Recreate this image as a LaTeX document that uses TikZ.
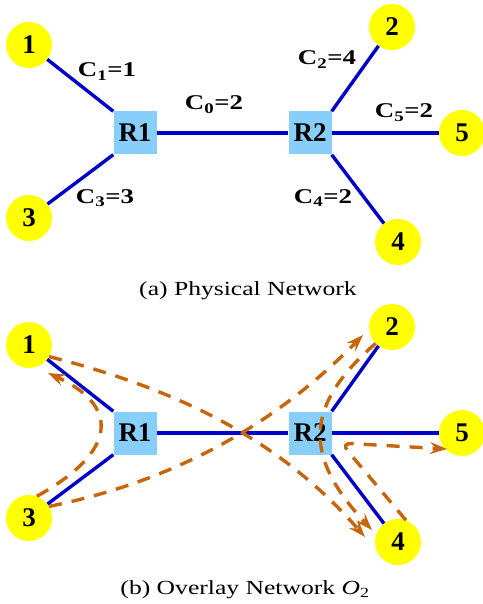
\documentclass[tikz,border=0pt]{standalone}
\usepackage{fontspec}
\setmainfont{Liberation Serif}
\newfontfamily\widefont{Liberation Serif}[FakeStretch=1.28]
\usepackage{tikz}
\usetikzlibrary{arrows.meta}
\definecolor{hostyellow}{RGB}{255,255,0}
\definecolor{rtrblue}{RGB}{135,206,250}
\definecolor{linkblue}{RGB}{0,0,205}
\definecolor{ovlorange}{RGB}{200,100,10}
\tikzset{
  host/.style={circle,fill=hostyellow,minimum size=46pt,inner sep=0pt,font=\bfseries\fontsize{27}{27}\selectfont},
  rtr/.style ={rectangle,fill=rtrblue,minimum size=43pt,inner sep=0pt,font=\bfseries\fontsize{27}{27}\selectfont},
  link/.style={draw=linkblue,line width=3.4pt},
  ovl/.style ={draw=ovlorange,line width=3.4pt,dash pattern=on 13pt off 10pt,-{Stealth[length=17pt,width=12pt,inset=6pt]}},
  lbl/.style ={anchor=base,inner sep=0pt,font=\widefont\bfseries\fontsize{21}{21}\selectfont},
  capt/.style={anchor=base,inner sep=0pt,font=\widefont\fontsize{20}{20}\selectfont},
}
\begin{document}
\begin{tikzpicture}[x=1pt,y=-1pt]
\useasboundingbox (0,0) rectangle (482,604);
% (a) physical network
\node[host] (h1) at (29,45) {1};
\node[host] (h2) at (392,27) {2};
\node[host] (h3) at (29,218) {3};
\node[host] (h4) at (398,242) {4};
\node[host] (h5) at (462,133) {5};
\node[rtr] (r1) at (135,133) {R1};
\node[rtr] (r2) at (310,133) {R2};
\draw[link] (h1) -- (r1.north west);
\draw[link] (h3) -- (r1.south west);
\draw[link] (r1) -- (r2);
\draw[link] (r2.north east) -- (h2);
\draw[link] (r2) -- (h5);
\draw[link] (r2.south east) -- (h4);
\node[lbl] (c1) at (107,77) {C\textsubscript{1}=1};
\node[lbl] (c0) at (214,110) {C\textsubscript{0}=2};
\node[lbl] (c2) at (327,65) {C\textsubscript{2}=4};
\node[lbl] (c5) at (404,118) {C\textsubscript{5}=2};
\node[lbl] (c4) at (323,203) {C\textsubscript{4}=2};
\node[lbl] (c3) at (105,203) {C\textsubscript{3}=3};
\node[capt] (capa) at (248,295) {(a) Physical Network};
% (b) overlay network
\node[host] (o1) at (29,345) {1};
\node[host] (o2) at (392,327) {2};
\node[host] (o3) at (29,518) {3};
\node[host] (o4) at (398,542) {4};
\node[host] (o5) at (462,433) {5};
\node[rtr] (or1) at (135,433) {R1};
\node[rtr] (or2) at (310,433) {R2};
\draw[link] (o1) -- (or1.north west);
\draw[link] (o3) -- (or1.south west);
\draw[link] (or1) -- (or2);
\draw[link] (or2.north east) -- (o2);
\draw[link] (or2) -- (o5);
\draw[link] (or2.south east) -- (o4);
\coordinate (t1) at (48,373);
\coordinate (t2) at (363,335);
\coordinate (t4a) at (365,537);
\coordinate (t4b) at (372,530);
\coordinate (t5) at (447,449);
\draw[ovl] (o1.-30) .. controls (180,390) and (280,440) .. (t4a);
\draw[ovl] (o3.30) .. controls (180,480) and (280,420) .. (t2);
\draw[ovl] (o3.70) .. controls (120,450) and (118,405) .. (t1);
\draw[ovl] (o2.225) .. controls (305,405) and (302,455) .. (t4b);
\draw[ovl,rounded corners=10pt] (o4.70) -- (341,443) -- (t5);
\node[capt] (capb) at (245,594) {(b) Overlay Network \textit{O}\textsubscript{2}};
\end{tikzpicture}
\end{document}
